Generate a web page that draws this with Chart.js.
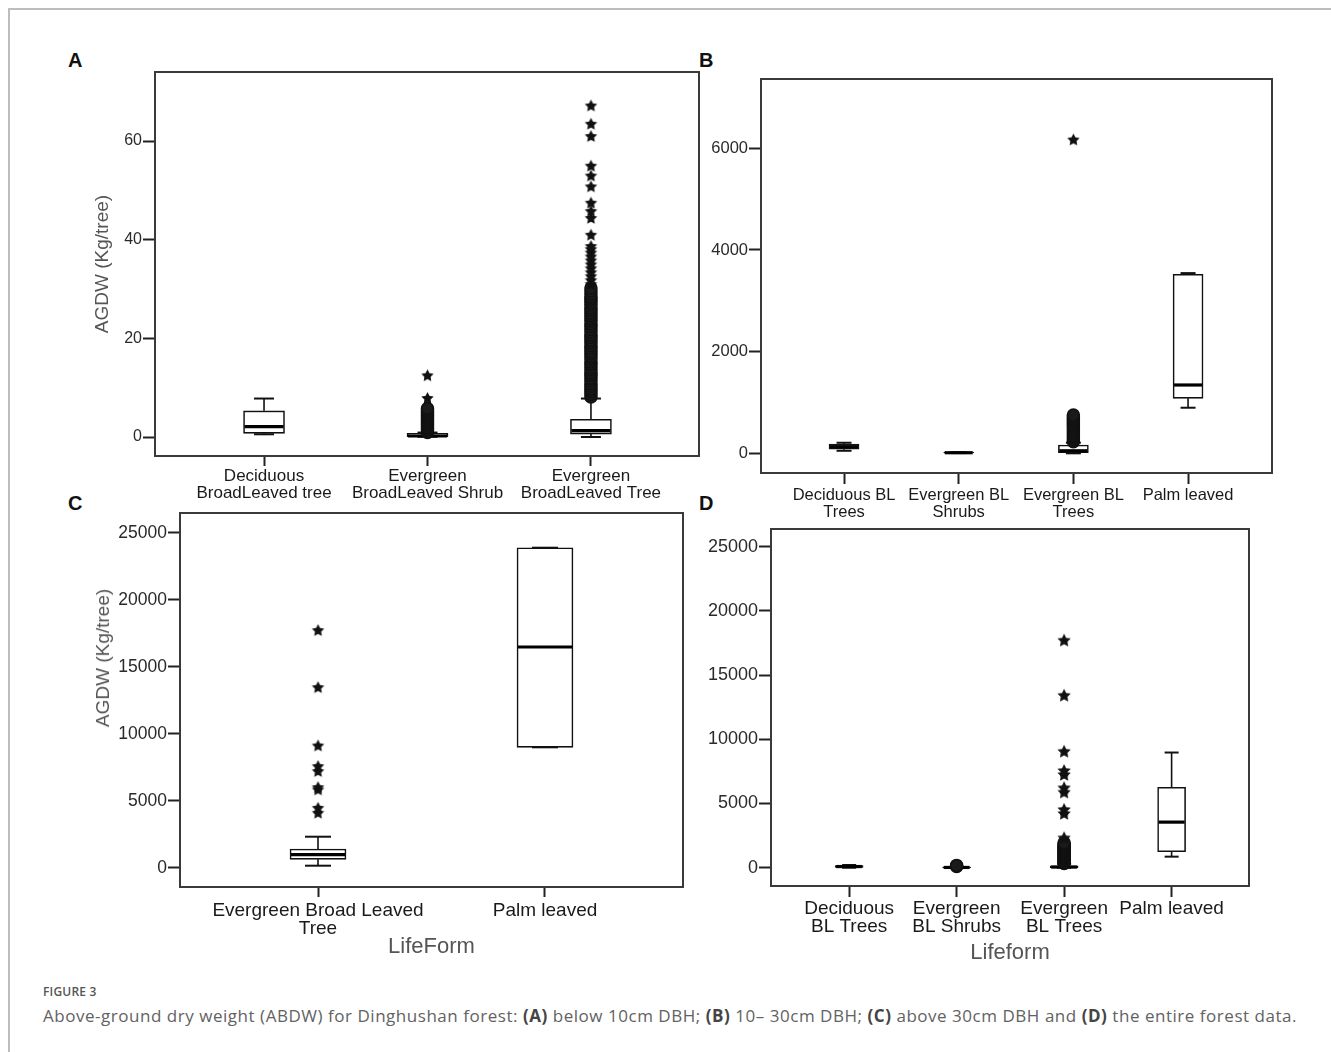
<!DOCTYPE html>
<html>
<head>
<meta charset="utf-8">
<script src="https://cdn.jsdelivr.net/npm/chart.js@4.4.1/dist/chart.umd.min.js"></script>
<style>
  html, body { margin: 0; padding: 0; background: #fff; }
  body { width: 1331px; height: 1052px; position: relative; overflow: hidden; font-family: "Liberation Sans", Arial, sans-serif; }
  .frame { position: absolute; left: 8px; top: 8px; width: 1400px; height: 1100px; border-top: 2px solid #bdbdbd; border-left: 2px solid #bdbdbd; }
  canvas { position: absolute; }
  .plab { position: absolute; font: bold 20px/20px "Liberation Sans", Arial, sans-serif; color: #111; }
  .ytitle { position: absolute; font: 19px/22px "Liberation Sans", Arial, sans-serif; color: #555; white-space: nowrap; transform: translate(-50%, -50%) rotate(-90deg); }
  .fig { position: absolute; left: 43px; top: 983px; font: 600 12px/18px "Open Sans", "Noto Sans", sans-serif; color: #555; letter-spacing: 0.2px; }
  .cap { position: absolute; left: 43px; top: 1005px; font: 17px/22px "Open Sans", "Noto Sans", sans-serif; color: #626262; white-space: nowrap; letter-spacing: 0.53px; }
  .cap b { font-weight: 700; color: #444; }
</style>
</head>
<body>
<div class="frame"></div>
<div class="plab" style="left:68px; top:50px;">A</div>
<div class="plab" style="left:699px; top:50px;">B</div>
<div class="plab" style="left:68px; top:493px;">C</div>
<div class="plab" style="left:699px; top:493px;">D</div>
<canvas id="cA" width="629" height="458" style="left:80px; top:62px;"></canvas>
<canvas id="cB" width="582" height="454" style="left:700px; top:69px;"></canvas>
<canvas id="cC" width="613" height="472" style="left:80px; top:503px;"></canvas>
<canvas id="cD" width="559" height="456" style="left:700px; top:519px;"></canvas>
<div class="ytitle" style="left:103px; top:658px;">AGDW (Kg/tree)</div>
<div class="fig">FIGURE 3</div>
<div class="cap">Above-ground dry weight (ABDW) for Dinghushan forest: <b>(A)</b> below 10cm DBH; <b>(B)</b> 10– 30cm DBH; <b>(C)</b> above 30cm DBH and <b>(D)</b> the entire forest data.</div>
<script>
// ---------------- Panel A : below 10 cm DBH ----------------
const catsA = [["Deciduous", "BroadLeaved tree"], ["Evergreen", "BroadLeaved Shrub"], ["Evergreen", "BroadLeaved Tree"]];
const lowA  = [0.55, 0.05, 0.0];
const q1A   = [0.75, 0.07, 0.6];
const medA  = [2.1, 0.2, 1.3];
const q3A   = [5.3, 0.75, 3.6];
const highA = [7.8, 0.9, 7.8];
const outShrubA = [0.9, 1.2, 1.5, 1.8, 2.1, 2.4, 2.7, 3.0, 3.3, 3.6, 3.9, 4.2, 4.5, 4.8, 5.1, 5.4, 5.8];
const outTreeA  = [8.1, 8.6, 9.2, 9.7, 10.3, 10.8, 11.4, 11.9, 12.5, 13.0, 13.6, 14.1, 14.7, 15.2, 15.8, 16.3, 16.9, 17.4, 18.0, 18.5, 19.1, 19.6, 20.2, 20.7, 21.3, 21.8, 22.4, 22.9, 23.5, 24.0, 24.6, 25.1, 25.7, 26.2, 26.8, 27.3, 27.9, 28.4, 29.0, 29.6, 30.2];
const extShrubA = [7.8, 12.4];
const extTreeA  = [30.9, 31.7, 32.5, 33.3, 34.1, 34.9, 35.7, 36.5, 37.3, 38.0, 38.6, 40.9, 44.3, 45.7, 47.4, 50.7, 52.9, 54.9, 60.9, 63.4, 67.1];
const yTicksA = [0, 20, 40, 60];

// ---------------- Panel B : 10-30 cm DBH ----------------
const catsB = [["Deciduous BL", "Trees"], ["Evergreen BL", "Shrubs"], ["Evergreen BL", "Trees"], ["Palm leaved"]];
const lowB  = [50, 5, 0, 897];
const q1B   = [80, 8, 15, 1082];
const medB  = [130, 12, 50, 1344];
const q3B   = [180, 18, 163, 3521];
const highB = [208, 20, 210, 3545];
const outTreeB = [230, 270, 310, 350, 390, 430, 470, 510, 550, 590, 630, 670, 710, 753];
const extTreeB = [6163];
const yTicksB = [0, 2000, 4000, 6000];

// ---------------- Panel C : above 30 cm DBH ----------------
const catsC = [["Evergreen Broad Leaved", "Tree"], ["Palm leaved"]];
const lowC  = [150, 8985];
const q1C   = [625, 8985];
const medC  = [970, 16470];
const q3C   = [1395, 23880];
const highC = [2313, 23880];
const extTreeC = [4060, 4430, 5800, 5970, 7170, 7540, 9080, 13430, 17690];
const yTicksC = [0, 5000, 10000, 15000, 20000, 25000];

// ---------------- Panel D : entire forest ----------------
const catsD = [["Deciduous", "BL Trees"], ["Evergreen", "BL Shrubs"], ["Evergreen", "BL Trees"], ["Palm leaved"]];
const lowD  = [0, 0, 0, 860];
const q1D   = [30, 5, 10, 1250];
const medD  = [90, 20, 50, 3550];
const q3D   = [160, 40, 150, 6260];
const highD = [210, 60, 300, 8970];
const outShrubD = [90, 140, 180];
const outTreeD  = [320, 400, 480, 560, 640, 720, 800, 880, 960, 1040, 1120, 1200, 1280, 1360, 1440, 1520, 1600, 1680, 1760, 1850, 1950];
const extTreeD  = [2290, 4190, 4500, 5850, 6190, 7220, 7530, 9030, 13390, 17680];
const yTicksD = [0, 5000, 10000, 15000, 20000, 25000];

// --------------------------------------------------------
function makeStar(r) {
  const c = document.createElement('canvas');
  const s = Math.ceil(2 * r + 2);
  c.width = s; c.height = s;
  const g = c.getContext('2d');
  g.translate(s / 2, s / 2);
  g.beginPath();
  for (let k = 0; k < 10; k++) {
    const rr = k % 2 === 0 ? r : r * 0.5;
    const a = -Math.PI / 2 + k * Math.PI / 5;
    g.lineTo(rr * Math.cos(a), rr * Math.sin(a));
  }
  g.closePath();
  g.fillStyle = '#111';
  g.fill();
  return c;
}

const framePlugin = {
  id: 'frame',
  afterDatasetsDraw(chart) {
    const a = chart.chartArea, ctx = chart.ctx;
    ctx.save();
    ctx.strokeStyle = '#3a3a3a';
    ctx.lineWidth = 2;
    ctx.strokeRect(a.left, a.top, a.right - a.left, a.bottom - a.top);
    ctx.restore();
  }
};

function noPad(s) { s.paddingLeft = 0; s.paddingRight = 0; s.paddingTop = 0; s.paddingBottom = 0; }
function pts(idx, vals) { return vals.map(v => ({ x: idx, y: v })); }

function makeBoxChart(id, p) {
  const n = p.cats.length;
  const whisk = [];
  const caps = [];
  for (let i = 0; i < n; i++) {
    whisk.push({ x: i, y: p.low[i] }, { x: i, y: p.q1[i] }, { x: i, y: null });
    whisk.push({ x: i, y: p.q3[i] }, { x: i, y: p.high[i] }, { x: i, y: null });
    caps.push({ x: i, y: p.low[i] }, { x: i, y: p.high[i] });
  }
  const boxes = p.cats.map((c, i) => ({ x: i, y: [p.q1[i], p.q3[i]] }));
  const meds = p.cats.map((c, i) => ({ x: i, y: p.med[i] }));
  const star = makeStar(p.starR);
  const datasets = [
    { type: 'line', data: whisk, borderColor: '#111', borderWidth: 1.6, pointRadius: 0, spanGaps: false, order: 6 },
    { type: 'line', data: caps, showLine: false, pointStyle: 'line', pointRadius: p.capR, pointBorderWidth: 2, pointBorderColor: '#111', order: 5 },
    { type: 'bar', data: boxes, backgroundColor: '#fff', borderColor: '#111', borderWidth: 1.6, borderSkipped: false, barThickness: p.boxW, order: 4 },
    { type: 'line', data: meds, showLine: false, pointStyle: 'line', pointRadius: p.boxW / 2 - 1, pointBorderWidth: 3.2, pointBorderColor: '#000', order: 3 }
  ];
  (p.circles || []).forEach(([i, vals]) => datasets.push({
    type: 'line', data: pts(i, vals), showLine: false, pointStyle: 'circle', pointRadius: p.circR || 6,
    pointBorderWidth: 1.5, pointBorderColor: '#111', pointBackgroundColor: '#1a1a1a', order: 2
  }));
  (p.stars || []).forEach(([i, vals]) => datasets.push({
    type: 'line', data: pts(i, vals), showLine: false, pointStyle: star, pointRadius: p.starR, order: 1
  }));

  const xScale = {
    type: 'linear', min: p.xMin, max: p.xMax, offset: false,
    afterBuildTicks: s => { s.ticks = p.cats.map((c, i) => ({ value: i })); },
    afterFit: s => { s.height = p.xH; noPad(s); },
    grid: { display: true, drawOnChartArea: false, drawTicks: true, tickLength: p.xTickLen, tickColor: '#222', tickWidth: 2, offset: false },
    border: { display: false },
    ticks: {
      autoSkip: false, maxRotation: 0, minRotation: 0, padding: p.xPad, color: '#1a1a1a',
      font: { family: "'Liberation Sans', Arial, sans-serif", size: p.xFont, lineHeight: p.xLH },
      callback: v => p.cats[v]
    },
    title: p.xTitle ? {
      display: true, text: p.xTitle, color: '#555',
      font: { family: "'Liberation Sans', Arial, sans-serif", size: 22, lineHeight: 1.2 },
      padding: { top: 0, bottom: p.xTitlePad }
    } : { display: false }
  };
  const yScale = {
    type: 'linear', min: p.yMin, max: p.yMax,
    afterBuildTicks: s => { s.ticks = p.yTicks.map(v => ({ value: v })); },
    afterFit: s => { s.width = p.yW; noPad(s); },
    grid: { display: true, drawOnChartArea: false, drawTicks: true, tickLength: 12, tickColor: '#222', tickWidth: 2 },
    border: { display: false },
    ticks: { padding: 1, color: '#2a2a2a', font: { family: "'Liberation Sans', Arial, sans-serif", size: p.yFont }, callback: v => String(v) },
    title: p.yTitle ? {
      display: true, text: p.yTitle, color: '#555',
      font: { family: "'Liberation Sans', Arial, sans-serif", size: 19, lineHeight: 1.2 },
      padding: { top: p.yTitlePad, bottom: 0 }
    } : { display: false }
  };
  return new Chart(document.getElementById(id), {
    type: 'bar',
    data: { datasets },
    options: {
      responsive: false, animation: false, devicePixelRatio: 1,
      layout: { autoPadding: false, padding: { top: 10, right: 10, left: 0, bottom: 0 } },
      plugins: { legend: { display: false }, tooltip: { enabled: false } },
      scales: { x: xScale, y: yScale }
    },
    plugins: [framePlugin]
  });
}

makeBoxChart('cA', {
  cats: catsA, low: lowA, q1: q1A, med: medA, q3: q3A, high: highA,
  circles: [[1, outShrubA], [2, outTreeA]],
  stars: [[1, extShrubA], [2, extTreeA]],
  boxW: 41, capR: 10, starR: 6.5, circR: 6,
  xMin: -0.667, xMax: 2.661, yMin: -3.85, yMax: 74.0, yTicks: yTicksA,
  yW: 75, xH: 64, xTickLen: 10, xPad: 2, xFont: 17, xLH: 0.98, yFont: 16,
  yTitle: 'AGDW (Kg/tree)', yTitlePad: 11.6
});

makeBoxChart('cB', {
  cats: catsB, low: lowB, q1: q1B, med: medB, q3: q3B, high: highB,
  circles: [[2, outTreeB]], stars: [[2, extTreeB]],
  boxW: 30, capR: 7.5, starR: 6.5,
  xMin: -0.724, xMax: 3.732, yMin: -387, yMax: 7363, yTicks: yTicksB,
  yW: 61, xH: 50, xTickLen: 11, xPad: 3, xFont: 16.5, xLH: 1.01, yFont: 16.5
});

makeBoxChart('cC', {
  cats: catsC, low: lowC, q1: q1C, med: medC, q3: q3C, high: highC,
  stars: [[0, extTreeC]],
  boxW: 56, capR: 13, starR: 6.5,
  xMin: -0.608, xMax: 1.608, yMin: -1440, yMax: 26470, yTicks: yTicksC,
  yW: 100, xH: 88, xTickLen: 10, xPad: 5, xFont: 19, xLH: 0.93, yFont: 17.5,
  xTitle: 'LifeForm', xTitlePad: 15
});

makeBoxChart('cD', {
  cats: catsD, low: lowD, q1: q1D, med: medD, q3: q3D, high: highD,
  circles: [[1, outShrubD], [2, outTreeD]], stars: [[2, extTreeD]],
  boxW: 28, capR: 7, starR: 7,
  xMin: -0.727, xMax: 3.72, yMin: -1425, yMax: 26378, yTicks: yTicksD,
  yW: 71, xH: 89, xTickLen: 11, xPad: 3, xFont: 19, xLH: 0.93, yFont: 18,
  xTitle: 'Lifeform', xTitlePad: 8.5
});
</script>
</body>
</html>
